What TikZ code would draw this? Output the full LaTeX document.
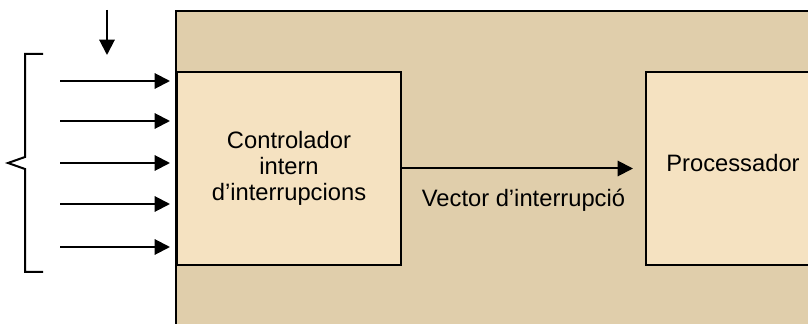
\documentclass[tikz,border=0pt]{standalone}
\usepackage{fontspec}
\setmainfont{Liberation Sans}
\usetikzlibrary{arrows.meta,positioning}
\definecolor{chipfill}{RGB}{224,206,171}
\definecolor{blockfill}{RGB}{245,226,193}
\tikzstyle{every node}+=[font=\fontsize{17.8}{19.5}\selectfont]
\tikzstyle{block}=[draw,fill=blockfill,align=center,inner sep=0pt,anchor=north west,minimum height=144.75pt]
\tikzstyle{arr}=[-{Triangle[length=11.5pt,width=11.5pt]}]

\begin{document}
\begin{tikzpicture}[x=0.75pt,y=-0.75pt,line width=1.5pt]
\clip (0,0) rectangle (808,324);

% xip
\draw[fill=chipfill] (176,11) rectangle (830,340);

\node[block,minimum width=168pt] (ctrl) at (176,71) {Controlador\\intern\\d’interrupcions};
\node[block,minimum width=130.5pt] (proc) at (645,71) {};
\node[inner sep=0pt] (proclbl) at ([yshift=4pt]proc.center) {Processador};

\draw[arr,shorten >=9pt] (ctrl) -- (proc)
  node[midway,below=12.5pt,inner sep=2pt] (vec) {Vector d’interrupció};

% linies d'entrada
\coordinate (irq) at (107,10);
\coordinate (irqend) at (107,55);
\draw[arr] (irq) -- (irqend);
\foreach \yy [count=\i] in {81,121,163,204,247} {
  \coordinate (in\i) at (60,\yy);
  \draw[arr,shorten >=4.5pt] (in\i) -- (in\i -| ctrl.west);
}

\draw (43,54) -- (25,54) -- (25,157) -- (8,163) -- (25,169) -- (25,272) -- (43,272);
\end{tikzpicture}
\end{document}
